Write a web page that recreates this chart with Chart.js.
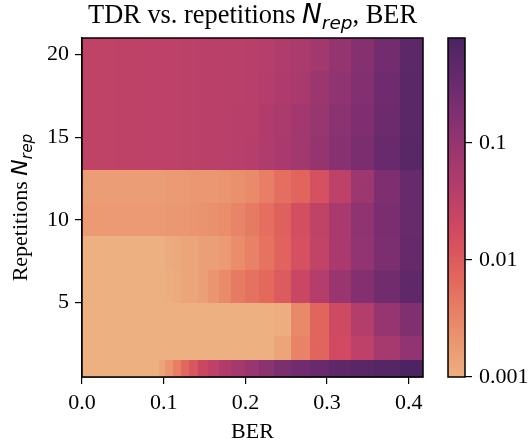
<!DOCTYPE html>
<html>
<head>
<meta charset="utf-8">
<script src="https://cdn.jsdelivr.net/npm/chart.js@4.4.1/dist/chart.umd.min.js"></script>
<style>
  html, body { margin: 0; padding: 0; background: #ffffff; }
  #wrap { position: relative; width: 529px; height: 445px; overflow: hidden; }
  #main { position: absolute; left: 0; top: 0; }
  #cbar { position: absolute; left: 430px; top: 0; }
</style>
</head>
<body>
<div id="wrap">
  <canvas id="main" width="529" height="445"></canvas>
  <canvas id="cbar" width="99" height="445"></canvas>
</div>
<script>
// ---------------- data ----------------
// BER cell edges (x), one more than the number of columns
const berEdges = [0, 0.02, 0.04, 0.06, 0.08, 0.0942, 0.1016, 0.1114, 0.1212, 0.131, 0.142, 0.1542,
                  0.1677, 0.1824, 0.1995, 0.2166, 0.235, 0.2558, 0.279, 0.3023, 0.3293, 0.3574, 0.3892, 0.4174];
// repetitions (row centres) and row edges
const nRep = [1, 2, 4, 6, 8, 10, 12, 14, 16, 18, 20];
const nRepEdges = [0.5, 1.5, 3, 5, 7, 9, 11, 13, 15, 17, 19, 21];

// TDR values, one array per number of repetitions (columns follow berEdges)
const tdrN1  = [0.001, 0.001, 0.001, 0.001, 0.001, 0.0014, 0.0021, 0.0038, 0.0069, 0.0118, 0.0215, 0.032,
                0.045, 0.063, 0.087, 0.13, 0.195, 0.27, 0.343, 0.46, 0.53, 0.605, 0.79];
const tdrN2  = [0.001, 0.001, 0.001, 0.001, 0.001, 0.001, 0.001, 0.001, 0.001, 0.001, 0.001, 0.001,
                0.001, 0.001, 0.001, 0.001, 0.0014, 0.0033, 0.0074, 0.0176, 0.032, 0.061, 0.107];
const tdrN4  = [0.001, 0.001, 0.001, 0.001, 0.001, 0.001, 0.001, 0.001, 0.001, 0.001, 0.001, 0.001,
                0.001, 0.001, 0.001, 0.001, 0.0011, 0.0029, 0.0074, 0.019, 0.043, 0.094, 0.176];
const tdrN6  = [0.001, 0.001, 0.001, 0.001, 0.001, 0.001, 0.00107, 0.00114, 0.0014, 0.0014, 0.0016, 0.0021,
                0.0027, 0.0041, 0.0053, 0.0065, 0.0103, 0.0216, 0.042, 0.087, 0.159, 0.263, 0.448];
const tdrN8  = [0.001, 0.001, 0.001, 0.001, 0.001, 0.001, 0.00114, 0.0012, 0.0014, 0.0014, 0.0016, 0.0016,
                0.0018, 0.0026, 0.0034, 0.0051, 0.0079, 0.0144, 0.028, 0.055, 0.107, 0.195, 0.36];
const tdrN10 = [0.0018, 0.0018, 0.0018, 0.0018, 0.0018, 0.0018, 0.0019, 0.00195, 0.00195, 0.0021, 0.0022, 0.0024,
                0.0026, 0.0032, 0.0041, 0.0057, 0.0085, 0.0154, 0.030, 0.0586, 0.118, 0.208, 0.355];
const tdrN12 = [0.0017, 0.0017, 0.0017, 0.0017, 0.0017, 0.0017, 0.00176, 0.0018, 0.0018, 0.0019, 0.00195, 0.00195,
                0.0021, 0.0024, 0.0027, 0.0038, 0.0057, 0.0074, 0.0144, 0.032, 0.079, 0.182, 0.355];
const tdrN14 = [0.030, 0.030, 0.031, 0.031, 0.032, 0.032, 0.032, 0.032, 0.033, 0.033, 0.0344, 0.0344,
                0.0355, 0.0366, 0.039, 0.046, 0.055, 0.0715, 0.0998, 0.144, 0.208, 0.343, 0.54];
const tdrN16 = [0.030, 0.030, 0.031, 0.031, 0.032, 0.032, 0.032, 0.032, 0.033, 0.033, 0.0344, 0.0344,
                0.0355, 0.0366, 0.038, 0.045, 0.053, 0.067, 0.090, 0.130, 0.182, 0.304, 0.51];
const tdrN18 = [0.030, 0.030, 0.031, 0.031, 0.032, 0.032, 0.032, 0.032, 0.033, 0.033, 0.0344, 0.0344,
                0.0355, 0.0355, 0.0366, 0.042, 0.048, 0.057, 0.082, 0.114, 0.167, 0.29, 0.51];
const tdrN20 = [0.030, 0.030, 0.031, 0.031, 0.032, 0.032, 0.032, 0.032, 0.033, 0.033, 0.0344, 0.0344,
                0.0355, 0.0355, 0.0366, 0.040, 0.046, 0.052, 0.067, 0.0998, 0.154, 0.254, 0.48];

// tick labels
const xTicks = [0, 0.1, 0.2, 0.3, 0.4];
const xTickLabels = ['0.0', '0.1', '0.2', '0.3', '0.4'];
const yTicks = [5, 10, 15, 20];
const yTickLabels = ['5', '10', '15', '20'];
const cbTicks = [0.001, 0.01, 0.1];
const cbTickLabels = ['0.001', '0.01', '0.1'];

// ---------------- colour map (seaborn "flare") on a log norm ----------------
const rows = [tdrN1, tdrN2, tdrN4, tdrN6, tdrN8, tdrN10, tdrN12, tdrN14, tdrN16, tdrN18, tdrN20];
const vmin = cbTicks[0];
const vmax = Math.max(...rows.map(r => Math.max(...r)));
const flareStops = [
  [237, 176, 129], [233, 141, 107], [227, 104, 92], [209, 74, 97],
  [177, 60, 108], [143, 51, 113], [108, 43, 109], [75, 36, 97]
];
function flare(t) {
  t = Math.min(1, Math.max(0, t));
  const p = t * (flareStops.length - 1);
  const i = Math.min(flareStops.length - 2, Math.floor(p));
  const f = p - i;
  const a = flareStops[i], b = flareStops[i + 1];
  const c = [0, 1, 2].map(k => Math.round(a[k] + (b[k] - a[k]) * f));
  return 'rgb(' + c.join(',') + ')';
}
function colorFor(v) {
  const t = (Math.log10(v) - Math.log10(vmin)) / (Math.log10(vmax) - Math.log10(vmin));
  return flare(t);
}

const SERIF = "'Liberation Serif', 'Times New Roman', serif";
const MATH = "'DejaVu Sans', sans-serif";
const FS = 22;        // tick / label font size
const TFS = 26.4;     // title font size

function drawMixed(ctx, parts, x, y) {
  let w = 0;
  parts.forEach(p => { ctx.font = p.f; p.w = ctx.measureText(p.t).width; w += p.w; });
  let cx = x - w / 2;
  parts.forEach(p => { ctx.font = p.f; ctx.fillText(p.t, cx, y + p.dy); cx += p.w; });
}

// ---------------- heatmap plugin (draws cells through the chart's scales) ----------------
const heatmapPlugin = {
  id: 'heatmap',
  beforeDatasetsDraw(chart) {
    const ctx = chart.ctx, xs = chart.scales.x, ys = chart.scales.y;
    ctx.save();
    for (let r = 0; r < rows.length; r++) {
      const yTop = Math.round(ys.getPixelForValue(nRepEdges[r + 1]));
      const yBot = Math.round(ys.getPixelForValue(nRepEdges[r]));
      for (let c = 0; c < berEdges.length - 1; c++) {
        const x0 = Math.round(xs.getPixelForValue(berEdges[c]));
        const x1 = Math.round(xs.getPixelForValue(berEdges[c + 1]));
        ctx.fillStyle = colorFor(rows[r][c]);
        ctx.fillRect(x0, yTop, x1 - x0, yBot - yTop);
      }
    }
    ctx.restore();
  },
  afterDatasetsDraw(chart) {
    const ctx = chart.ctx, a = chart.chartArea;
    ctx.save();
    ctx.strokeStyle = '#000';
    ctx.lineWidth = 1.5;
    ctx.strokeRect(a.left, a.top, a.right - a.left, a.bottom - a.top);
    ctx.restore();
  },
  afterDraw(chart) {
    const ctx = chart.ctx, a = chart.chartArea;
    ctx.save();
    ctx.fillStyle = '#000';
    ctx.textBaseline = 'alphabetic';
    ctx.textAlign = 'left';
    // title with mathtext-like N_rep
    drawMixed(ctx, [
      { t: 'TDR vs. repetitions ', f: TFS + 'px ' + SERIF, dy: 0 },
      { t: 'N', f: 'italic ' + TFS + 'px ' + MATH, dy: 0 },
      { t: 'rep', f: 'italic ' + (TFS * 0.7) + 'px ' + MATH, dy: TFS * 0.22 },
      { t: ', BER', f: TFS + 'px ' + SERIF, dy: 0 }
    ], (a.left + a.right) / 2, 23);

    // x axis label
    drawMixed(ctx, [{ t: 'BER', f: FS + 'px ' + SERIF, dy: 0 }], (a.left + a.right) / 2, 438);

    // y axis label (rotated)
    ctx.translate(27, (a.top + a.bottom) / 2);
    ctx.rotate(-Math.PI / 2);
    drawMixed(ctx, [
      { t: 'Repetitions ', f: FS + 'px ' + SERIF, dy: 0 },
      { t: 'N', f: 'italic ' + FS + 'px ' + MATH, dy: 0 },
      { t: 'rep', f: 'italic ' + (FS * 0.7) + 'px ' + MATH, dy: FS * 0.22 }
    ], 0, 0);
    ctx.restore();
  }
};

new Chart(document.getElementById('main'), {
  type: 'scatter',
  data: {
    datasets: [{
      data: nRep.map(n => ({ x: berEdges[0], y: n })),
      pointRadius: 0, showLine: false
    }]
  },
  options: {
    responsive: false, animation: false, devicePixelRatio: 1,
    layout: { padding: { left: 0, right: 106, top: 38, bottom: 0 } },
    plugins: { legend: { display: false }, tooltip: { enabled: false }, title: { display: false } },
    scales: {
      x: {
        type: 'linear', min: berEdges[0], max: berEdges[berEdges.length - 1],
        afterBuildTicks: s => { s.ticks = xTicks.map(v => ({ value: v })); },
        afterFit: s => { s.height = 68; },
        ticks: {
          color: '#000', font: { family: SERIF, size: FS }, padding: 6, maxRotation: 0,
          callback: (v, i) => xTickLabels[i]
        },
        grid: { display: true, drawOnChartArea: false, drawTicks: true, tickLength: 7, color: '#000', lineWidth: 1.2 },
        border: { display: true, color: '#000', width: 1.5 }
      },
      y: {
        type: 'linear', min: nRepEdges[0], max: nRepEdges[nRepEdges.length - 1],
        afterBuildTicks: s => { s.ticks = yTicks.map(v => ({ value: v })); },
        afterFit: s => { s.width = 82; },
        ticks: {
          color: '#000', font: { family: SERIF, size: FS }, padding: 6,
          callback: (v, i) => yTickLabels[i]
        },
        grid: { display: true, drawOnChartArea: false, drawTicks: true, tickLength: 7, color: '#000', lineWidth: 1.2 },
        border: { display: true, color: '#000', width: 1.5 }
      }
    }
  },
  plugins: [heatmapPlugin]
});

// ---------------- colour bar ----------------
const cbarPlugin = {
  id: 'cbarFill',
  beforeDatasetsDraw(chart) {
    const ctx = chart.ctx, a = chart.chartArea, s = chart.scales.y;
    ctx.save();
    for (let py = Math.floor(a.top); py < Math.ceil(a.bottom); py++) {
      const v = s.getValueForPixel(py + 0.5);
      ctx.fillStyle = colorFor(v);
      ctx.fillRect(a.left, py, a.right - a.left, 1);
    }
    ctx.strokeStyle = '#000';
    ctx.lineWidth = 1.5;
    ctx.strokeRect(a.left, a.top, a.right - a.left, a.bottom - a.top);
    ctx.restore();
  }
};

new Chart(document.getElementById('cbar'), {
  type: 'scatter',
  data: { datasets: [{ data: [{ x: 0, y: vmin }, { x: 1, y: vmax }], pointRadius: 0 }] },
  options: {
    responsive: false, animation: false, devicePixelRatio: 1,
    layout: { padding: { left: 18, right: 0, top: 38, bottom: 68 } },
    plugins: { legend: { display: false }, tooltip: { enabled: false } },
    scales: {
      x: { type: 'linear', display: false, min: 0, max: 1 },
      y: {
        type: 'logarithmic', position: 'right', min: vmin, max: vmax,
        afterBuildTicks: s => { s.ticks = cbTicks.map(v => ({ value: v })); },
        afterFit: s => { s.width = 64; },
        ticks: {
          color: '#000', font: { family: SERIF, size: FS }, padding: 7,
          callback: (v, i) => cbTickLabels[i]
        },
        grid: { display: true, drawOnChartArea: false, drawTicks: true, tickLength: 7, color: '#000', lineWidth: 1.2 },
        border: { display: false }
      }
    }
  },
  plugins: [cbarPlugin]
});
</script>
</body>
</html>
